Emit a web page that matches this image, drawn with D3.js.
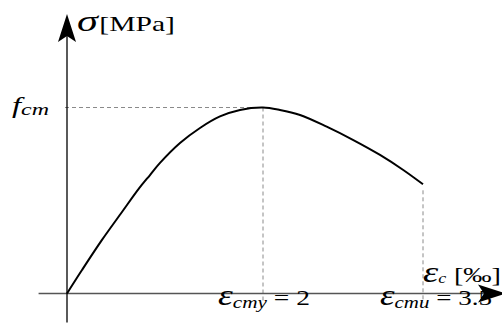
<!DOCTYPE html>
<html>
<head>
<meta charset="utf-8">
<script src="https://cdn.jsdelivr.net/npm/d3@7"></script>
<style>
  html, body { margin: 0; padding: 0; background: #fff; }
  svg { display: block; }
</style>
</head>
<body>
<svg id="chart" width="502" height="335" font-family="'Liberation Serif', 'Times New Roman', serif"></svg>
<script>
// Concrete stress–strain relation (strain in ‰, stress as a fraction of fcm)
const strain = [0, 0.153, 0.357, 0.561, 0.735, 0.847, 0.949, 1.153, 1.357, 1.561, 1.765, 2.0, 2.159, 2.347, 2.597, 2.847, 3.097, 3.315, 3.5];
const stress = [0, 0.126, 0.288, 0.438, 0.565, 0.637, 0.702, 0.809, 0.890, 0.952, 0.987, 1.0, 0.987, 0.960, 0.897, 0.825, 0.745, 0.664, 0.587];

// Characteristic strains marked on the horizontal axis
const strainMarks = [
  { sub: "cmy", value: 2 },
  { sub: "cmu", value: 3.5 }
];
const peakStress = 1;

const svg = d3.select("#chart");

const x = d3.scaleLinear().domain([0, 2, 3.5]).range([67, 263, 423]);
const y = d3.scaleLinear().domain([0, 1]).range([293.5, 107.5]);

// dashed guide lines
const guide = svg.append("g")
  .attr("stroke", "#8a8a8a")
  .attr("stroke-width", 1)
  .attr("stroke-dasharray", "4,3")
  .attr("fill", "none");

guide.append("line")
  .attr("x1", x(0) - 2).attr("x2", x(2))
  .attr("y1", y(peakStress)).attr("y2", y(peakStress));

guide.append("line")
  .attr("x1", x(2)).attr("x2", x(2))
  .attr("y1", y(peakStress)).attr("y2", y(-0.05));

guide.append("line")
  .attr("x1", x(3.5)).attr("x2", x(3.5))
  .attr("y1", y(stress[stress.length - 1]) + 6).attr("y2", y(-0.05));

// axes
svg.append("line")
  .attr("x1", x(-0.29)).attr("x2", 492)
  .attr("y1", y(0)).attr("y2", y(0))
  .attr("stroke", "#555").attr("stroke-width", 1.6);

svg.append("line")
  .attr("x1", x(0)).attr("x2", x(0))
  .attr("y1", y(-0.156)).attr("y2", 30)
  .attr("stroke", "#000").attr("stroke-width", 1.3);

// arrow heads
const head = "M0,0 L-9,28 L0,22 L9,28 Z";
svg.append("path")
  .attr("d", head)
  .attr("transform", `translate(${x(0)},14)`)
  .attr("fill", "#000");
svg.append("path")
  .attr("d", head)
  .attr("transform", `translate(506,${y(0)}) rotate(90)`)
  .attr("fill", "#000");

// stress–strain curve
const line = d3.line()
  .x((d, i) => x(strain[i]))
  .y(d => y(d))
  .curve(d3.curveCatmullRom.alpha(0.5));

svg.append("path")
  .datum(stress)
  .attr("d", line)
  .attr("fill", "none")
  .attr("stroke", "#000")
  .attr("stroke-width", 2);

// labels (stretched horizontally to their set widths)
function label(px, py, width) {
  return svg.append("text")
    .attr("x", px).attr("y", py)
    .attr("fill", "#000")
    .attr("textLength", width)
    .attr("lengthAdjust", "spacingAndGlyphs");
}

const yLab = label(77, 31, 98);
yLab.append("tspan").attr("font-style", "italic").attr("font-size", 30).text("σ");
yLab.append("tspan").attr("font-size", 21).attr("dx", 1).text("[MPa]");

const fLab = label(12, y(peakStress) + 5, 37).attr("font-style", "italic");
fLab.append("tspan").attr("font-size", 23).text("f");
fLab.append("tspan").attr("dy", 2).attr("font-size", 17).text("cm");

const eLab = label(423, 282, 78);
eLab.append("tspan").attr("font-style", "italic").attr("font-size", 30).text("ε");
eLab.append("tspan").attr("font-style", "italic").attr("font-size", 14).attr("dy", 1).text("c");
eLab.append("tspan").attr("dx", 6).attr("dy", -1).attr("font-size", 22).text("[‰]");

const markX = { 2: 218, 3.5: 380 };
const markW = { 2: 92, 3.5: 112 };
strainMarks.forEach(m => {
  const t = label(markX[m.value], 305, markW[m.value]);
  t.append("tspan").attr("font-style", "italic").attr("font-size", 30).text("ε");
  t.append("tspan").attr("font-style", "italic").attr("font-size", 17).attr("dy", 3).text(m.sub);
  t.append("tspan").attr("dy", -3).attr("font-size", 22).text(" = " + m.value);
});
</script>
</body>
</html>
